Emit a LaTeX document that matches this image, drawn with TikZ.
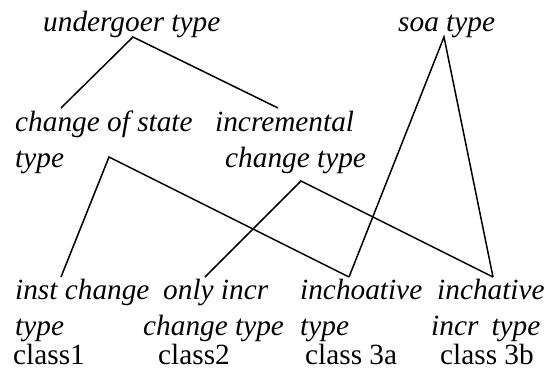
\documentclass[tikz,border=0pt]{standalone}
\usepackage{fontspec}
\setmainfont{Liberation Serif}
\begin{document}
\begin{tikzpicture}[x=1pt,y=-1pt,
  lbl/.style={anchor=base west,inner sep=0pt,font=\fontsize{29.3}{34}\selectfont\itshape},
  cls/.style={anchor=base west,inner sep=0pt,text depth=0pt,font=\fontsize{29.3}{34}\selectfont},
  edge/.style={line width=1.5pt,line join=miter}]
\useasboundingbox (0,0) rectangle (551,370);
% texts
\node[lbl] (und) at (43,31) {undergoer type};
\node[lbl] (soa) at (398,31) {soa type};
\node[lbl] (cos1) at (15,131) {change of state};
\node[lbl] (cos2) at (15,167) {type};
\node[lbl] (inc1) at (215,131) {incremental};
\node[lbl] (inc2) at (225,167) {change type};
\node[lbl] (ic1) at (15,299) {inst change};
\node[lbl] (ic2) at (15,335) {type};
\node[cls] (c1) at (13,364) {class1};
\node[lbl] (oi1) at (163,299) {only incr};
\node[lbl] (oi2) at (143,335) {change type};
\node[cls] (c2) at (158,364) {class2};
\node[lbl] (ch1) at (300,299) {inchoative};
\node[lbl] (ch2) at (300,335) {type};
\node[cls] (c3a) at (305,364) {class 3a};
\node[lbl] (ci1) at (437,299) {inchative};
\node[lbl] (ci2) at (431,335) {incr\hspace{0.45em}type};
\node[cls] (c3b) at (440,364) {class 3b};
% connector points
\coordinate (undT) at (133,37);
\coordinate (soaT) at (444,37);
\coordinate (cosT) at (61,108);
\coordinate (incT) at (278,108);
\coordinate (cosB) at (109,157);
\coordinate (incB) at (301,181);
\coordinate (icT) at (61,277);
\coordinate (oiT) at (205,277);
\coordinate (chT) at (349,277);
\coordinate (ciT) at (493,277);
% connectors
\draw[edge] (cosT) -- (undT) -- (incT);
\draw[edge] (icT) -- (cosB) -- (chT);
\draw[edge] (oiT) -- (incB) -- (ciT);
\draw[edge] (chT) -- (soaT) -- (ciT);
\end{tikzpicture}
\end{document}
